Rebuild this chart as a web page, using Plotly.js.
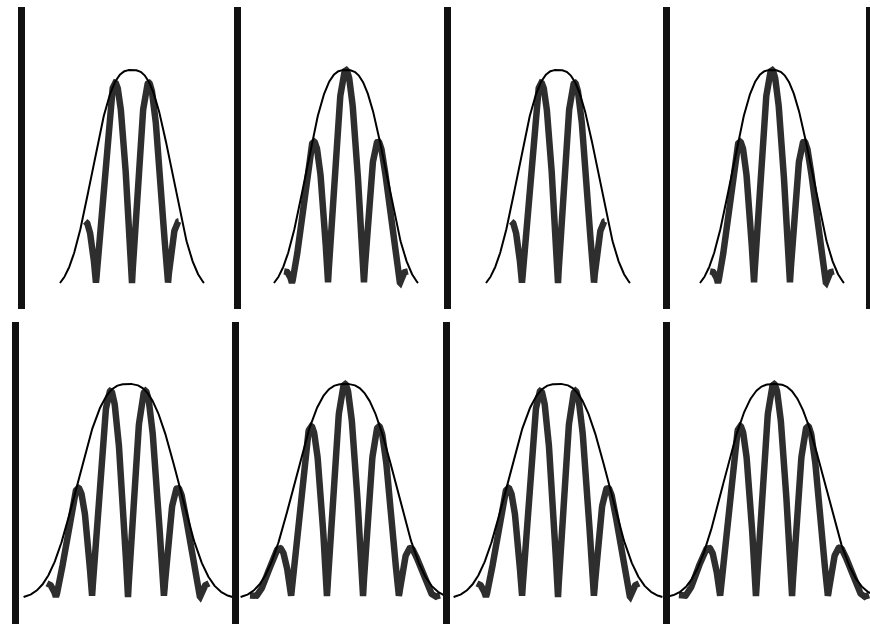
<!DOCTYPE html>
<html>
<head>
<meta charset="utf-8">
<script src="https://cdn.plot.ly/plotly-3.0.1.min.js"></script>
<style>
  html, body { margin: 0; padding: 0; background: #ffffff; }
  #chart { width: 870px; height: 626px; }
</style>
</head>
<body>
<div id="chart"></div>
<script>
// Eight wave packets: a smooth envelope and the fringe amplitude it modulates.
// x is measured in fringe periods from the packet centre, y in units of peak height.

const panelIds        = ['a', 'b', 'c', 'd', 'e', 'f', 'g', 'h'];
const envelopeWidth   = [1.32, 1.32, 1.32, 1.32, 1.667, 1.667, 1.667, 1.667];
const envelopeExtent  = [2.0, 2.0, 2.0, 2.0, 2.9, 2.9, 2.9, 3.0];
const envelopeShape   = [2.8, 2.8, 2.8, 2.8, 2.8, 2.8, 2.8, 2.8];
// 0.5 = dark fringe at the centre, 0 = bright fringe at the centre
const fringePhase     = [0.5, 0, 0.5, 0, 0.5, 0, 0.5, 0];
const fringeExtent    = [1.3, 1.72, 1.3, 1.72, 2.25, 2.64, 2.25, 2.64];

// ---- page geometry (pixels) ----
const W = 870, H = 626, PX_PER_FRINGE = 36, PX_PER_UNIT = 213;
const geom = [
  // left edge, right edge, packet centre, top, bottom, baseline
  {l: 25,  r: 237, c: 132, t: 7,   b: 309, base: 283},
  {l: 241, r: 447, c: 346, t: 7,   b: 309, base: 283},
  {l: 451, r: 666, c: 558, t: 7,   b: 309, base: 283},
  {l: 670, r: 866, c: 772, t: 7,   b: 309, base: 283, mirror: true},
  {l: 19,  r: 235, c: 128, t: 322, b: 624, base: 597},
  {l: 239, r: 446, c: 345, t: 322, b: 624, base: 597},
  {l: 450, r: 666, c: 558, t: 322, b: 624, base: 597},
  {l: 670, r: 870, c: 774, t: 322, b: 624, base: 597}
];

function envelope(i, x) {
  const w = envelopeWidth[i], p = envelopeShape[i], e = envelopeExtent[i];
  const floor = Math.exp(-Math.pow(e / w, p));
  const v = Math.exp(-Math.pow(Math.abs(x) / w, p));
  return Math.max(0, (v - floor) / (1 - floor));
}

function samples(lo, hi, n) {
  const out = [];
  for (let k = 0; k <= n; k++) out.push(lo + (hi - lo) * k / n);
  return out;
}

const traces = [];
const layout = {
  width: W, height: H,
  margin: {l: 0, r: 0, t: 0, b: 0, pad: 0},
  paper_bgcolor: '#ffffff', plot_bgcolor: 'rgba(0,0,0,0)',
  showlegend: false, hovermode: false
};

panelIds.forEach((id, i) => {
  const n = i + 1;
  const xa = 'x' + (n === 1 ? '' : n), ya = 'y' + (n === 1 ? '' : n);
  const xk = 'xaxis' + (n === 1 ? '' : n), yk = 'yaxis' + (n === 1 ? '' : n);
  const g = geom[i];

  // fringe amplitude |cos| under the envelope
  const fx = samples(-fringeExtent[i], fringeExtent[i], 600);
  const fy = fx.map(x => envelope(i, x) * Math.abs(Math.cos(Math.PI * (x - fringePhase[i]))));
  traces.push({
    x: fx, y: fy, xaxis: xa, yaxis: ya, type: 'scatter', mode: 'lines',
    line: {color: '#2e2e2e', width: 6.5, shape: 'linear'}
  });

  // envelope
  const ex = samples(-envelopeExtent[i], envelopeExtent[i], 400);
  const ey = ex.map(x => envelope(i, x));
  traces.push({
    x: ex, y: ey, xaxis: xa, yaxis: ya, type: 'scatter', mode: 'lines',
    line: {color: '#000000', width: 2}
  });

  layout[xk] = {
    domain: [g.l / W, g.r / W],
    range: [(g.l - g.c) / PX_PER_FRINGE, (g.r - g.c) / PX_PER_FRINGE],
    showline: false, showgrid: false, zeroline: false, showticklabels: false, ticks: '',
    anchor: ya, fixedrange: true
  };
  layout[yk] = {
    domain: [1 - g.b / H, 1 - g.t / H],
    range: [-(g.b - g.base) / PX_PER_UNIT, (g.base - g.t) / PX_PER_UNIT],
    showline: true, linewidth: 7, linecolor: '#111111', mirror: !!g.mirror,
    showgrid: false, zeroline: false, showticklabels: false, ticks: '',
    anchor: xa, fixedrange: true
  };
});

Plotly.newPlot('chart', traces, layout, {staticPlot: true, displayModeBar: false});
</script>
</body>
</html>
